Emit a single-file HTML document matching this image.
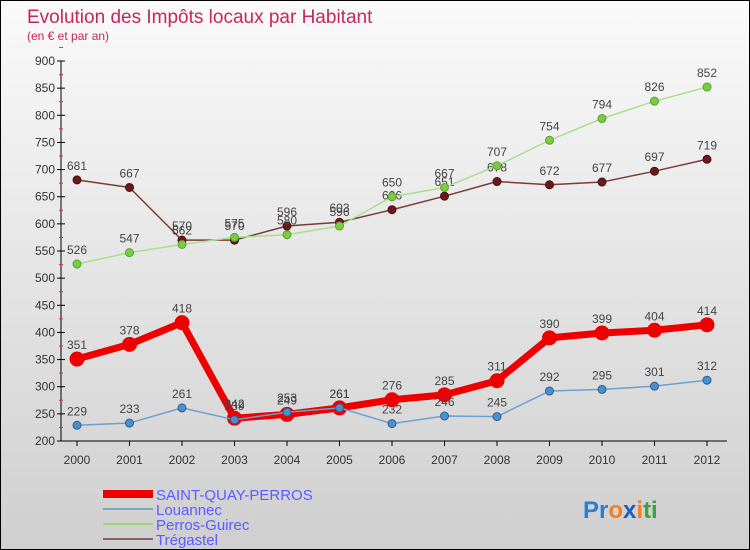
<!DOCTYPE html>
<html><head><meta charset="utf-8"><style>
body{margin:0}
#c{width:750px;height:550px;position:relative;overflow:hidden;box-sizing:border-box;border:1px solid #000;background:linear-gradient(#fafafa,#cfcfcf);font-family:"Liberation Sans","DejaVu Sans",sans-serif}
</style></head><body>
<div id="c">
<svg id="s" width="750" height="550" style="position:absolute;left:0;top:0">
<text x="26" y="22" font-size="19" fill="#c8265a">Evolution des Impôts locaux par Habitant</text>
<text x="26" y="39" font-size="12" fill="#c8265a">(en € et par an)</text>
<g id="axes"></g><g id="series"></g>
<g>
<rect x="102" y="489" width="50" height="8" fill="#e00"/>
<text x="155" y="499" font-size="15" fill="#5b5bff">SAINT-QUAY-PERROS</text>
<line x1="102" y1="508" x2="152" y2="508" stroke="#7aa6c8" stroke-width="2"/>
<text x="155" y="514" font-size="15" fill="#5b5bff">Louannec</text>
<line x1="102" y1="523" x2="152" y2="523" stroke="#9dd77a" stroke-width="2"/>
<text x="155" y="529" font-size="15" fill="#5b5bff">Perros-Guirec</text>
<line x1="102" y1="538" x2="152" y2="538" stroke="#8a6060" stroke-width="2"/>
<text x="155" y="544" font-size="15" fill="#5b5bff">Trégastel</text>
</g>
<text x="582" y="517" font-size="24" font-weight="bold"><tspan fill="#2a7fd0">Pr</tspan><tspan fill="#f08020">o</tspan><tspan fill="#1a5fc0">x</tspan><tspan fill="#f08020">i</tspan><tspan fill="#40a040">ti</tspan></text>
</svg>
</div>
<script>
const years=[2000,2001,2002,2003,2004,2005,2006,2007,2008,2009,2010,2011,2012];
const yTicks=[200,250,300,350,400,450,500,550,600,650,700,750,800,850,900];
const saintQuay=[351,378,418,242,249,261,276,285,311,390,399,404,414];
const louannec=[229,233,261,239,253,261,232,246,245,292,295,301,312];
const perros=[526,547,562,575,580,596,650,667,707,754,794,826,852];
const tregastel=[681,667,570,570,596,603,626,651,678,672,677,697,719];
const NS='http://www.w3.org/2000/svg';
const X=i=>76+i*52.5, Y=v=>440-(v-200)*380/700;
function mk(t,a,p){const e=document.createElementNS(NS,t);for(const k in a)e.setAttribute(k,a[k]);p.appendChild(e);return e;}
const ax=document.getElementById('axes'),sg=document.getElementById('series');
let l=mk('line',{x1:60,y1:Y(900),x2:60,y2:440,stroke:'#000'},ax);


l=mk('line',{x1:60,y1:440,x2:726,y2:440,stroke:'#000'},ax);


yTicks.forEach(v=>{
 mk('line',{x1:56,y1:Y(v),x2:64,y2:Y(v),stroke:'#000'},ax);
 mk('line',{x1:58,y1:Y(v+25),x2:62,y2:Y(v+25),stroke:'#d33'},ax);
 const t=mk('text',{x:54,y:Y(v)+4,'font-size':12,fill:'#333','text-anchor':'end'},ax);t.textContent=v;
 
 
});
years.forEach((y,i)=>{
 mk('line',{x1:X(i),y1:440,x2:X(i),y2:445,stroke:'#000'},ax);
 const t=mk('text',{x:X(i),y:463,'font-size':12,fill:'#333','text-anchor':'middle'},ax);t.textContent=y;
 
 
});
function draw(d,name,col,w,dot,r,dotStroke){
 const g=mk('g',{},sg);
 
 
 mk('polyline',{points:d.map((v,i)=>X(i)+','+Y(v)).join(' '),fill:'none',stroke:col,'stroke-width':w,'stroke-linejoin':'round'},g);
 d.forEach((v,i)=>{
  const c=mk('circle',{cx:X(i),cy:Y(v),r:r,fill:dot,stroke:dotStroke,'stroke-width':1},g);
  
  
  const t=mk('text',{x:X(i),y:Y(v)-10,'font-size':12,fill:'#444','text-anchor':'middle'},g);t.textContent=v;
  
  
 });
}
draw(tregastel,'tregastel','#7a3a3a',1.5,'#6a1a1a',4,'#4a1010');
draw(perros,'perros-guirec','#a8e08a',1.5,'#7acc40',4,'#5aa030');
draw(saintQuay,'saint-quay-perros','#e00',7,'#e00',7,'#e00');
draw(louannec,'louannec','#6aa0d0',1.5,'#4a90d0',4,'#2a6090');
</script>
</body></html>
